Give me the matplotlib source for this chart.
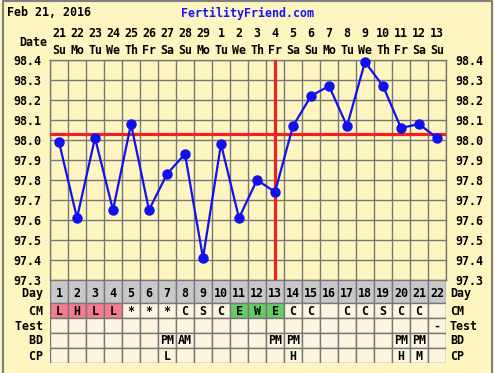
import numpy as np
import matplotlib
matplotlib.use("Agg")
import matplotlib.pyplot as plt
from matplotlib.patches import Rectangle
from matplotlib.lines import Line2D

# ---- data ----
days = list(range(1, 23))
dates = ["21", "22", "23", "24", "25", "26", "27", "28", "29", "1", "2",
         "3", "4", "5", "6", "7", "8", "9", "10", "11", "12", "13"]
weekdays = ["Su", "Mo", "Tu", "We", "Th", "Fr", "Sa"] * 3 + ["Su"]
temps = [97.99, 97.61, 98.01, 97.65, 98.08, 97.65, 97.83, 97.93, 97.41, 97.98, 97.61,
         97.80, 97.74, 98.07, 98.22, 98.27, 98.07, 98.39, 98.27, 98.06, 98.08, 98.01]
coverline = 98.03
ovulation_day = 13
cm = ["L", "H", "L", "L", "*", "*", "*", "C", "S", "C", "E",
      "W", "E", "C", "C", "", "C", "C", "S", "C", "C", ""]
test = [""] * 21 + ["-"]
bd = ["", "", "", "", "", "", "PM", "AM", "", "", "",
      "", "PM", "PM", "", "", "", "", "", "PM", "PM", ""]
cp = ["", "", "", "", "", "", "L", "", "", "", "",
      "", "", "H", "", "", "", "", "", "H", "M", ""]
row_names = ["Day", "CM", "Test", "BD", "CP"]
yticks = [97.3, 97.4, 97.5, 97.6, 97.7, 97.8, 97.9, 98.0, 98.1, 98.2, 98.3, 98.4]

# ---- style ----
BG = "#FFF5C1"
CELL = "#FDF5E0"
GRAYROW = "#C8C8C8"
PINK = "#F47C8E"
GREEN = "#66CC66"
GRID = "#777777"
BLUE = "#1010F0"
RED = "#EE2222"
FONT = dict(family="DejaVu Sans Mono", fontweight="bold", fontsize=8.4)

W, H = 494, 373
fig = plt.figure(figsize=(W / 100, H / 100), dpi=100)
fig.patch.set_facecolor(BG)

def fx(px):
    return px / W

def fy(py):
    return 1 - py / H

# outer frame (left, top, right)
fig.add_artist(Line2D([fx(3), fx(3), fx(491.5), fx(491.5)],
                      [fy(373), fy(1), fy(1), fy(373)],
                      color="#808080", lw=1.5, transform=fig.transFigure))

# ---- main axes ----
L, R, T, B = 50, 446, 60, 280
ax = fig.add_axes([fx(L), fy(B), fx(R - L), (B - T) / H])
ax.set_facecolor(BG)
ax.set_xlim(0.5, 22.5)
ax.set_ylim(97.3, 98.4)
ax.set_yticks(yticks)
ax.set_yticklabels([f"{v:.1f}" for v in yticks], **FONT)
ax.set_xticks(days)
ax.set_xticklabels([f"{d}\n{w}" for d, w in zip(dates, weekdays)], linespacing=1.35, **FONT)
ax.set_xticks(np.arange(0.5, 23, 1), minor=True)
ax.tick_params(axis="x", which="both", bottom=False, top=False, labelbottom=False,
               labeltop=True, length=0, pad=2.5)
ax.tick_params(axis="y", which="both", left=False, right=False, labelleft=True,
               labelright=True, length=0, pad=6.5)
ax.grid(True, which="minor", axis="x", color=GRID, lw=1)
ax.grid(True, which="major", axis="y", color=GRID, lw=1)
ax.grid(False, which="major", axis="x")
for s in ax.spines.values():
    s.set_color(GRID)
    s.set_linewidth(1)
ax.set_axisbelow(True)

ax.axhline(coverline, color=RED, lw=2.3, zorder=3)
ax.axvline(ovulation_day, color=RED, lw=2.3, zorder=3)
ax.plot(days, temps, color=BLUE, lw=1.6, marker="o", ms=6.5, zorder=4, clip_on=False)

ax.text(-0.008, 1.08, "Date", transform=ax.transAxes, ha="right", va="center", **FONT)

# ---- table axes ----
rows_edges = [0, 22.5, 37.5, 52.5, 67.5, 82.5]
text_offsets = [2.0, 1.5, 1.0, 1.0, 1.5]
TB = 280 + 83
tax = fig.add_axes([fx(L), fy(TB), fx(R - L), 83 / H])
tax.set_xlim(0.5, 22.5)
tax.set_ylim(83, 0)
tax.axis("off")

row_values = [[str(d) for d in days], cm, test, bd, cp]
for r, vals in enumerate(row_values):
    y0, y1 = rows_edges[r], rows_edges[r + 1]
    yc = (y0 + y1) / 2 + text_offsets[r]
    for d, v in zip(days, vals):
        if r == 0:
            fc = GRAYROW
        elif r == 1 and v in ("L", "H"):
            fc = PINK
        elif r == 1 and v in ("E", "W"):
            fc = GREEN
        else:
            fc = CELL
        tax.add_patch(Rectangle((d - 0.5, y0), 1, y1 - y0, facecolor=fc,
                                edgecolor=GRID, lw=1))
        if v:
            tax.text(d, yc, v, ha="center", va="center", **FONT)
    tax.text(0.5, yc, row_names[r] + " ", ha="right", va="center", **FONT)
    tax.text(22.72, yc, row_names[r], ha="left", va="center", **FONT)

# ---- header ----
fig.text(fx(7), fy(13), "Feb 21, 2016", ha="left", va="center", **FONT)
fig.text(fx(247), fy(13), "FertilityFriend.com", ha="center", va="center",
         color="#1414FF", **FONT)

fig.savefig("out.png", dpi=100, facecolor=BG)
